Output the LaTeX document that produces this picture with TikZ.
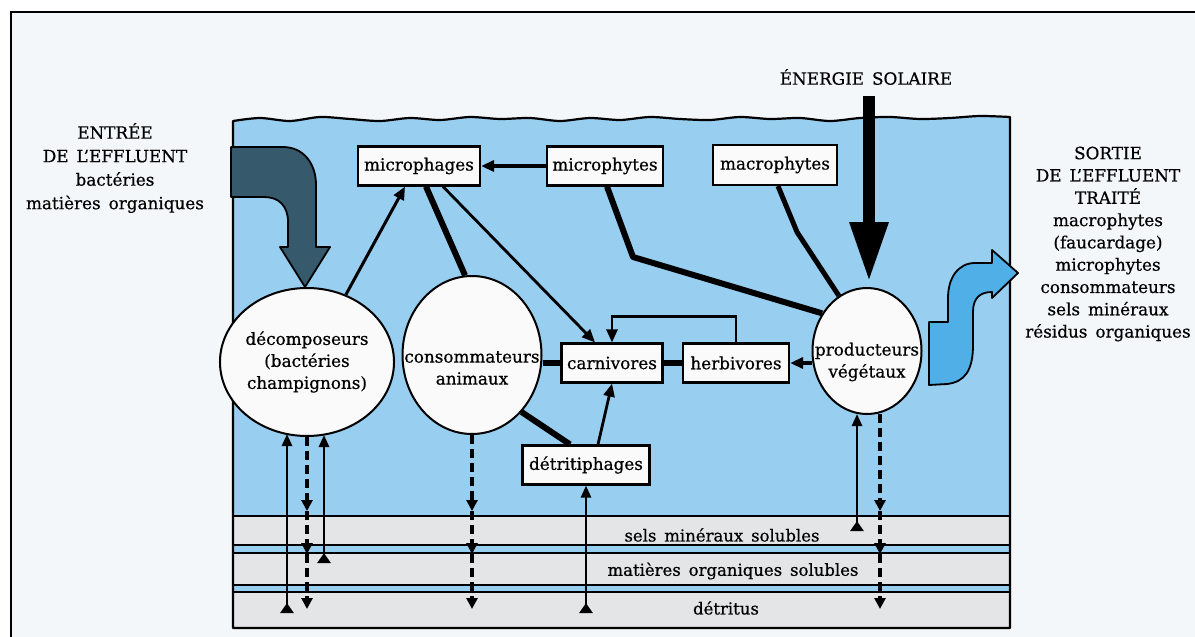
\documentclass[tikz,border=0pt]{standalone}
\usepackage{fontspec}
\setmainfont{DejaVu Serif}[WordSpace=1.5, FakeBold=0.6]
\usetikzlibrary{arrows.meta,shapes.geometric,calc}
\definecolor{paper}{HTML}{F4F7F9}
\definecolor{water}{HTML}{98CEF0}
\definecolor{band}{HTML}{E4E5E7}
\definecolor{boxfill}{HTML}{FAFAFA}
\definecolor{inflow}{HTML}{36596C}
\definecolor{outflow}{HTML}{4FAFE6}
\begin{document}
\begin{tikzpicture}[x=1pt,y=-1pt,
  every node/.style={font=\fontsize{16.8}{22}\selectfont, text=black},
  box/.style={draw, line width=2.2pt, fill=boxfill, minimum height=39pt, inner sep=0pt},
  blob/.style={draw, line width=2pt, fill=boxfill, ellipse, inner sep=0pt, align=center},
  thinl/.style={line width=2.8pt},
  thickl/.style={line width=6pt},
  arr/.style={-{Triangle[length=13pt,width=11pt]}},
  dsh/.style={line width=3.5pt, dash pattern=on 9pt off 5pt, -{Triangle[length=11pt,width=11pt]}},
  upl/.style={line width=2.6pt, {Triangle[reversed,length=10pt,width=13pt]}-{Triangle[length=12pt,width=10pt]}},
  bandtext/.style={font=\fontsize{16.5}{20}\selectfont},
]
\useasboundingbox (0,0) rectangle (1195,637);
\fill[white] (0,0) rectangle (1195,637);
\fill[paper] (11,12) rectangle (1195,637);
\draw[line width=2pt] (11,12) rectangle (1250,700);

% water body
\fill[water] (233,628) -- (233,121) -- plot[smooth] coordinates {(233,121) (260,118) (290,121) (320,117) (350,119) (380,121) (410,118) (440,120) (470,117) (500,119) (530,118) (560,121) (590,118) (620,120) (650,117) (680,119) (710,120) (740,117) (770,119) (800,118) (830,121) (860,118) (890,117) (920,119) (950,118) (980,116) (1010,117)} -- (1010,628) -- cycle;
% layers
\fill[band] (233,516) rectangle (1010,545);
\fill[band] (233,553) rectangle (1010,585);
\fill[band] (233,592) rectangle (1010,628);
\foreach \yy in {516,545,553,585,592} \draw[line width=2.2pt] (233,\yy) -- (1010,\yy);
\draw[line width=2.2pt, line join=round] (233,628) -- (233,121) -- plot[smooth] coordinates {(233,121) (260,118) (290,121) (320,117) (350,119) (380,121) (410,118) (440,120) (470,117) (500,119) (530,118) (560,121) (590,118) (620,120) (650,117) (680,119) (710,120) (740,117) (770,119) (800,118) (830,121) (860,118) (890,117) (920,119) (950,118) (980,116) (1010,117)} -- (1010,628) -- cycle;

\node[bandtext] (sels) at (722,535) {sels minéraux solubles};
\node[bandtext] (matorg) at (733,571) {matières organiques solubles};
\node[bandtext] (detritus) at (726,608) {détritus};

% outside texts
\node[align=center, font=\fontsize{16.8}{23.5}\selectfont] (entree) at (115,168) {ENTRÉE\\DE L'EFFLUENT\\bactéries\\matières organiques};
\node[align=center, font=\fontsize{16.8}{22.3}\selectfont] (sortie) at (1108,244) {SORTIE\\DE L'EFFLUENT\\TRAITÉ\\macrophytes\\(faucardage)\\microphytes\\consommateurs\\sels minéraux\\résidus organiques};
\node (sol) at (866,77) {ÉNERGIE SOLAIRE};

% inflow arrow
\draw[line width=1.8pt, fill=inflow, line join=round] (231,147) -- (283,147) .. controls (303,147) and (316,163) .. (316,185) -- (316,247) -- (330,247) -- (305,287) -- (280,247) -- (288,247) -- (288,222) .. controls (288,206) and (279,197) .. (264,197) -- (231,197) -- cycle;
% outflow arrow
\draw[line width=1.8pt, fill=outflow, line join=round] (929,322) -- (929,385) -- (947,384) .. controls (965,382) and (973,370) .. (973,345) -- (973,312) .. controls (973,298) and (980,292) .. (992,292) -- (992,298) -- (1018,273) -- (992,250) -- (992,263) -- (975,263) .. controls (958,263) and (948,278) .. (948,298) -- (948,322) -- cycle;

% nodes
\node[box, minimum width=122pt] (mph) at (419,166) {microphages};
\node[box, minimum width=116pt] (mpt) at (605,166) {microphytes};
\node[box, minimum width=124pt, minimum height=40pt] (mac) at (775,165) {macrophytes};
\node[box, minimum width=101pt] (carn) at (612,363) {carnivores};
\node[box, minimum width=106pt] (herb) at (736,363) {herbivores};
\node[box, minimum width=127pt] (detr) at (586,465) {détritiphages};
\node[blob, minimum width=132pt, minimum height=148pt] (dec) at (307,362) {décomposeurs\\(bactéries\\champignons)};
\node[blob, minimum width=139pt, minimum height=158pt, label={[align=center, yshift=-13pt]center:{consommateurs\\animaux}}] (cons) at (472,355) {};
\node[blob, minimum width=109pt, minimum height=126pt, label={[align=center, yshift=-11pt]center:{producteurs\\végétaux}}] (prod) at (867,351) {};

% solar energy
\coordinate (solA) at (869,96);
\draw[line width=12pt, -{Triangle[length=60pt,width=36pt]}] (solA) -- ($(prod.north)+(2,-5)$);

% connectors
\draw[line width=4.5pt, arr] (mpt.west) -- (mph.east);
\draw[line width=3pt, arr] (dec.60) -- ($(mph.south)+(-14,0)$);
\draw[thickl] ($(mph.south)+(7,0)$) -- (cons.95);
\draw[thinl, arr] ($(mph.south)+(24,0)$) -- ($(carn.north)+(-17,0)$);
\draw[thickl, line join=round] ($(mpt.south)+(2,0)$) -- (633,257) -- (prod.140);
\draw[line width=5pt, line join=round] ($(mac.south)+(3,0)$) -- (797,232) -- (prod.117);
\draw[line width=4.5pt, arr] (prod.west |- herb.east) -- (herb.east);
\draw[thickl] (carn.east) -- (herb.west);
\draw[thinl, arr] (herb.north) |- ($(carn.north)+(0,-26)$) -- (carn.north);
\draw[thickl] (cons.east |- carn.west) -- (carn.west);
\draw[thickl] (cons.-49) -- ($(detr.north)+(-16,0)$);
\draw[thinl, arr] ($(detr.north)+(12,0)$) -- (carn.south);

% vertical exchanges with the sediment layers
\coordinate (lv1) at (0,511);
\coordinate (lv2) at (0,554);
\coordinate (lv3) at (0,609);
\coordinate (bd) at (0,613);
\coordinate (bm) at (0,563);
\coordinate (bs) at (0,531);

\coordinate (dA) at ($(dec.south)+(-20,-3)$);
\coordinate (dB) at (dec.south);
\coordinate (dC) at ($(dec.south)+(17,-2)$);
\draw[upl] (dA |- bd) -- (dA);
\draw[dsh] (dB) -- (dB |- lv1);
\draw[dsh] (dB |- lv1) -- (dB |- lv2);
\draw[dsh] (dB |- lv2) -- (dB |- lv3);
\draw[upl] (dC |- bm) -- (dC);

\draw[dsh] (cons.south) -- (cons.south |- lv1);
\draw[dsh] (cons.south |- lv1) -- (cons.south |- lv2);
\draw[dsh] (cons.south |- lv2) -- (cons.south |- lv3);

\draw[upl] (detr.south |- bd) -- (detr.south);

\coordinate (pA) at ($(prod.south)+(-10,-1)$);
\coordinate (pB) at ($(prod.south)+(13,-1)$);
\draw[upl] (pA |- bs) -- (pA);
\draw[dsh] (pB) -- (pB |- lv1);
\draw[dsh] (pB |- lv1) -- (pB |- lv2);
\draw[dsh] (pB |- lv2) -- (pB |- lv3);
\end{tikzpicture}
\end{document}
